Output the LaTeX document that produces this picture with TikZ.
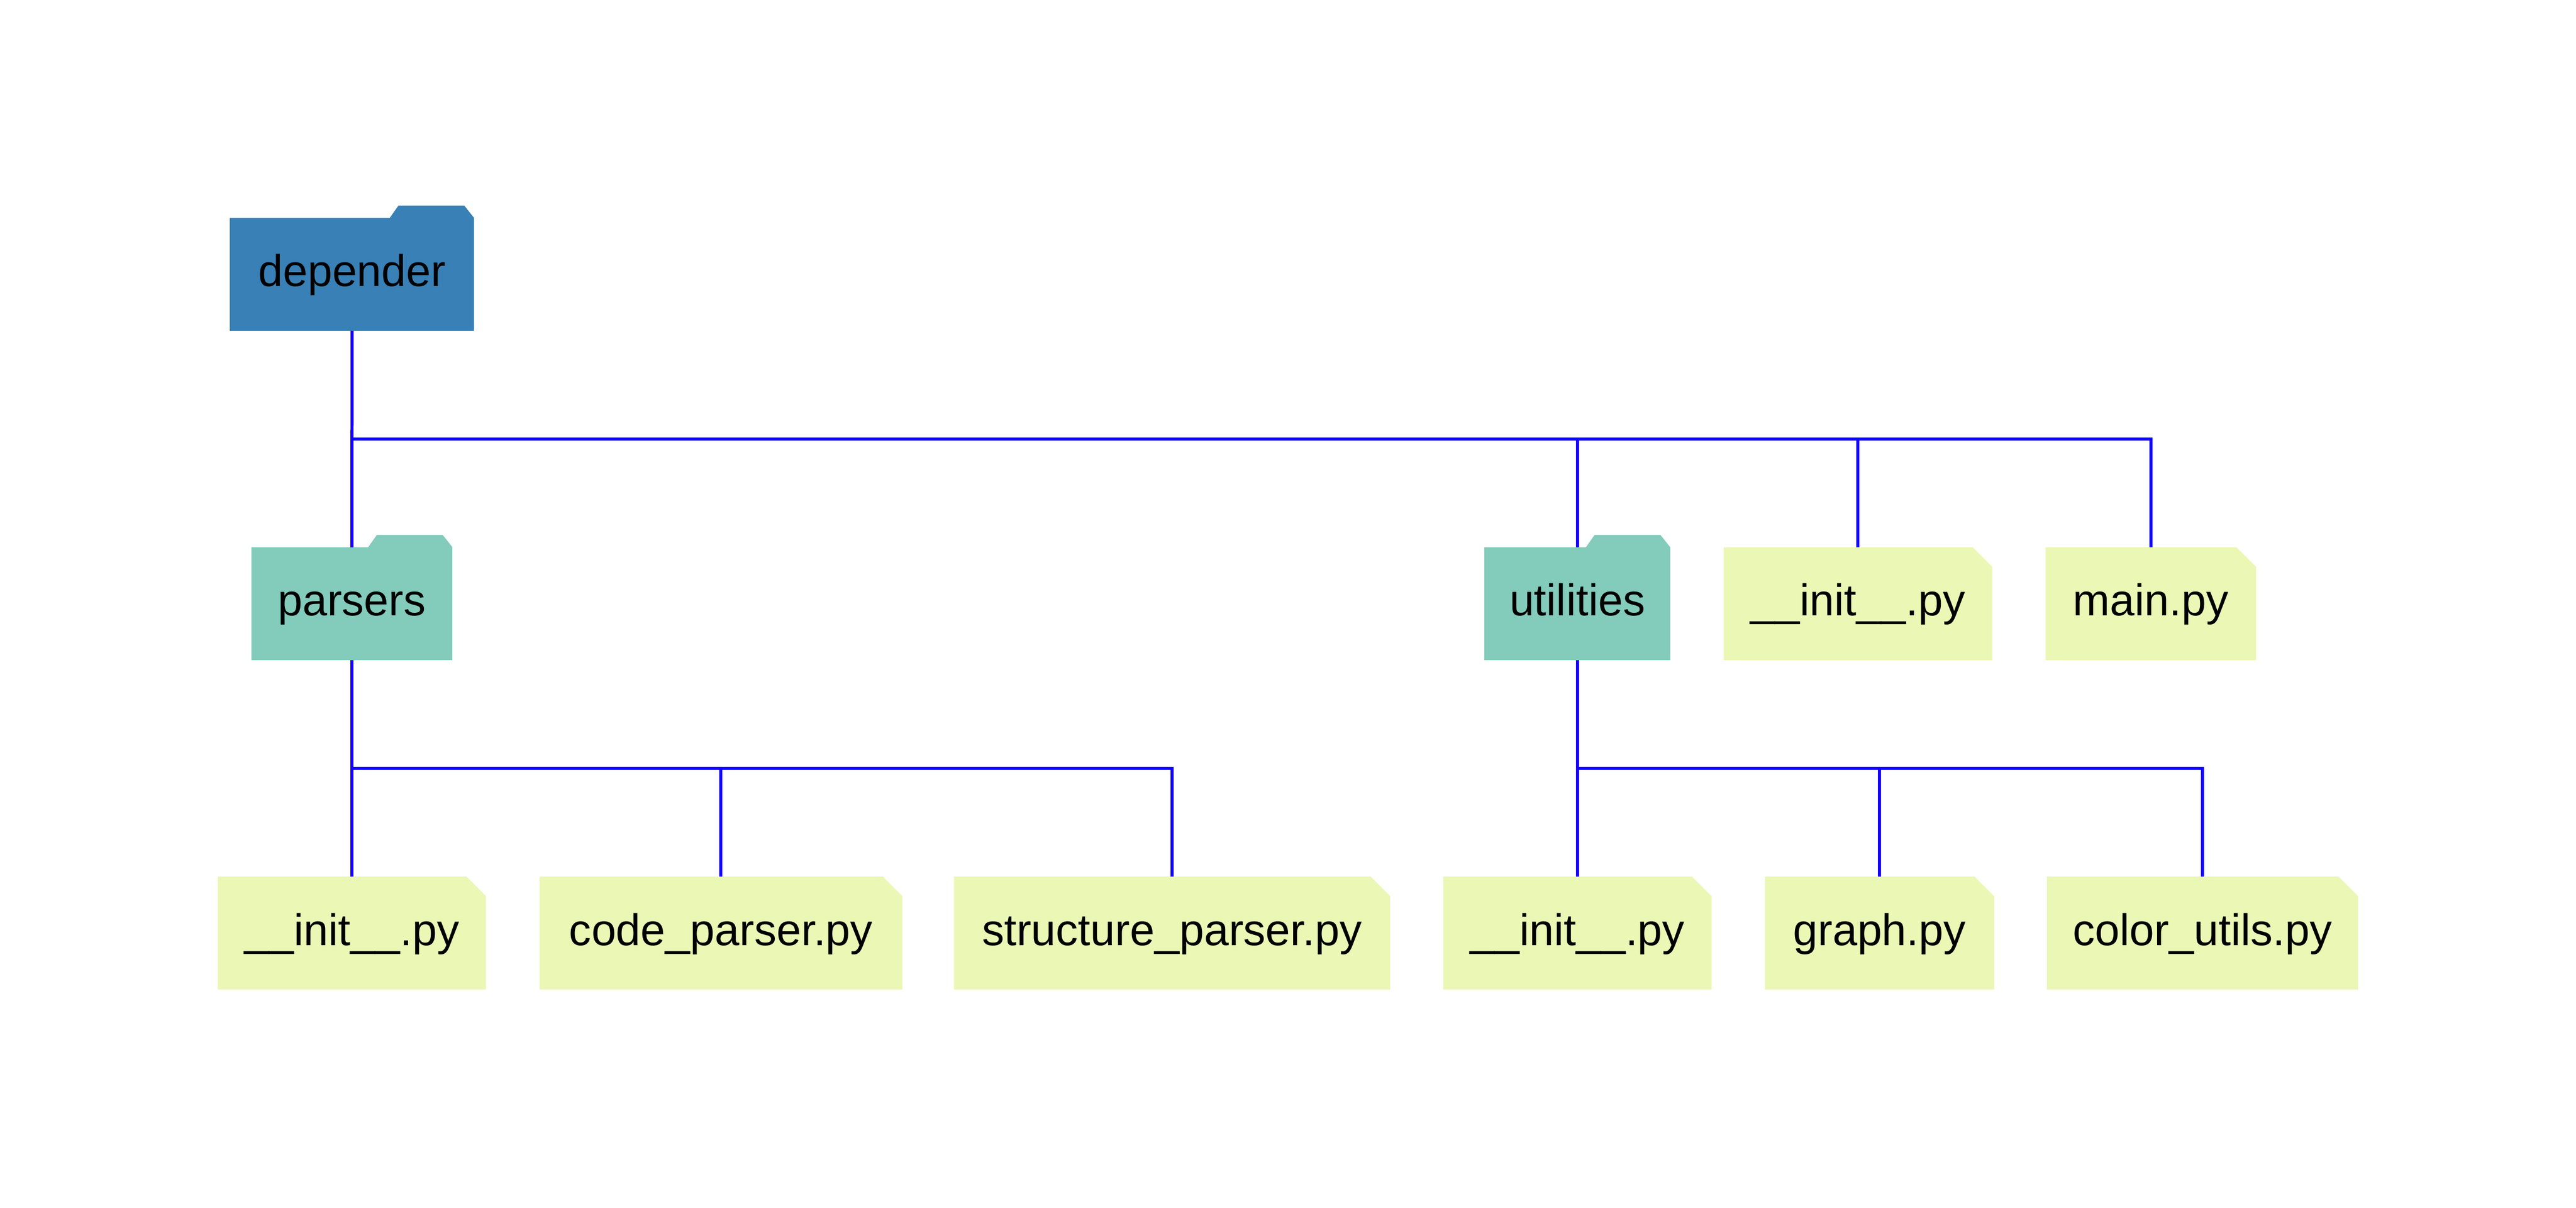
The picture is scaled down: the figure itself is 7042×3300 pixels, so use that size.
\documentclass[tikz,border=0pt]{standalone}
\usepackage{fontspec}
\setmainfont{Liberation Sans}
\usetikzlibrary{shapes.misc}
\definecolor{rootblue}{HTML}{3880B6}
\definecolor{subteal}{HTML}{83CBBB}
\definecolor{fileyellow}{HTML}{EBF7B5}
\definecolor{linkblue}{HTML}{1400FF}

\begin{document}
\begin{tikzpicture}[x=0.01cm,y=-0.01cm]
    \tikzset{
        BoxStyle/.style = {%
            inner sep = 0pt,
            outer sep = 0pt,
            minimum height = 3.08cm,
            text height = 0.90cm,
            text depth = 0.24cm,
            font = \fontsize{34.5}{42}\selectfont},
        FolderStyle/.style = {BoxStyle, shape = rectangle},
        FileStyle/.style = {%
            BoxStyle,
            fill = fileyellow,
            shape = chamfered rectangle,
            chamfered rectangle corners = north east,
            chamfered rectangle xsep = 0.265cm,
            chamfered rectangle ysep = 0.265cm},
        foldertab/.style = {insert path = {%
            ([shift={(-231,0)}]#1.north east)
            -- ([shift={(-207,-34)}]#1.north east)
            -- ([shift={(-27,-34)}]#1.north east)
            -- (#1.north east) -- cycle}},
        LinkStyle/.style = {draw = linkblue, line width = 2.4pt}}
    \useasboundingbox (0,0) rectangle (7042,3300);

    % folders
    \node[FolderStyle,fill=rootblue,minimum width=6.67cm,minimum height=3.08cm] (depender) at (962.5,750) {depender};
    \node[FolderStyle,fill=subteal,minimum width=5.50cm] (parsers) at (962,1650) {parsers};
    \node[FolderStyle,fill=subteal,minimum width=5.08cm] (utilities) at (4312,1650) {utilities};
    \fill[rootblue,foldertab=depender];
    \fill[subteal,foldertab=parsers];
    \fill[subteal,foldertab=utilities];

    % files
    \node[FileStyle,minimum width=7.34cm] (rootinit) at (5079,1650) {\_\_init\_\_.py};
    \node[FileStyle,minimum width=5.75cm] (main) at (5879.5,1650) {main.py};
    \node[FileStyle,minimum width=7.33cm] (parsersinit) at (962,2550) {\_\_init\_\_.py};
    \node[FileStyle,minimum width=9.91cm] (codeparser) at (1971,2550) {code\_parser.py};
    \node[FileStyle,minimum width=11.92cm] (structureparser) at (3204,2550) {structure\_parser.py};
    \node[FileStyle,minimum width=7.33cm] (utilsinit) at (4312,2550) {\_\_init\_\_.py};
    \node[FileStyle,minimum width=6.26cm] (graph) at (5138,2550) {graph.py};
    \node[FileStyle,minimum width=8.50cm] (colorutils) at (6021,2550) {color\_utils.py};

    % links
    \coordinate (rootbus) at (962,1200);
    \coordinate (parsersbus) at (962,2100);
    \coordinate (utilsbus) at (4312,2100);
    \draw[LinkStyle] (depender.south) -- (parsers.north);
    \draw[LinkStyle] (rootbus) -| (utilities.north);
    \draw[LinkStyle] (rootbus) -| (rootinit.north);
    \draw[LinkStyle] (rootbus) -| (main.north);
    \draw[LinkStyle] (parsers.south) -- (parsersinit.north);
    \draw[LinkStyle] (parsersbus) -| (codeparser.north);
    \draw[LinkStyle] (parsersbus) -| (structureparser.north);
    \draw[LinkStyle] (utilities.south) -- (utilsinit.north);
    \draw[LinkStyle] (utilsbus) -| (graph.north);
    \draw[LinkStyle] (utilsbus) -| (colorutils.north);
\end{tikzpicture}
\end{document}
